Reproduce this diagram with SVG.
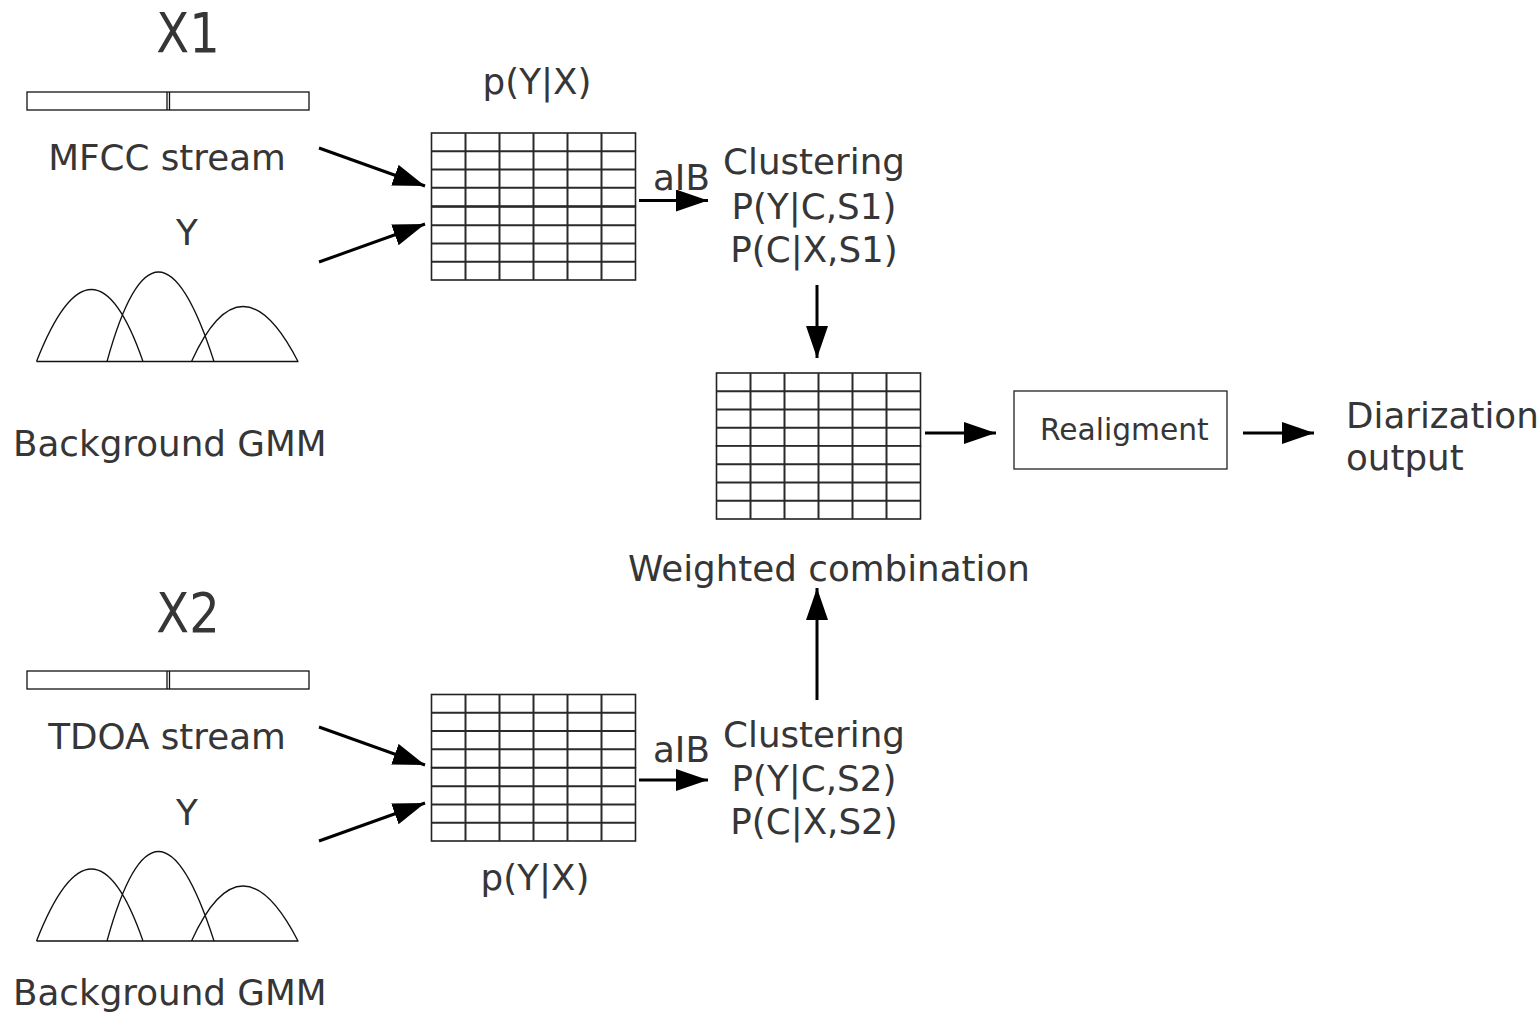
<svg xmlns="http://www.w3.org/2000/svg" xmlns:xlink="http://www.w3.org/1999/xlink" width="1538" height="1012" viewBox="0 0 1538 1012">
<style>
  text { font-family: "DejaVu Sans", "Liberation Sans", sans-serif; fill: #363636; }
  .t35 { font-size: 35.7px; }
  .big { font-size: 48px; }
  .mid { text-anchor: middle; }
  .thin { fill: none; stroke: #111; stroke-width: 1.3; }
  .grid { fill: #fff; stroke: #222; stroke-width: 1.6; }
  .gl { stroke: #2a2a2a; stroke-width: 2; }
  .arr { stroke: #000; stroke-width: 3; fill: none; marker-end: url(#ah); }
</style>
<defs>
  <marker id="ah" markerUnits="userSpaceOnUse" markerWidth="34" markerHeight="24" refX="32" refY="11" orient="auto">
    <path d="M0,0 L32,11 L0,22 z" fill="#000"/>
  </marker>
  <g id="block">
    <rect class="grid" x="0" y="0" width="204" height="73"/>
    <path class="gl" d="M34,0V73 M68,0V73 M102,0V73 M136,0V73 M170,0V73 M0,18.25H204 M0,36.5H204 M0,54.75H204"/>
  </g>
  <g id="bar">
    <rect class="thin" x="0" y="0" width="282" height="18" fill="#fff"/>
    <path class="thin" d="M140,0V18 M142.5,0V18"/>
  </g>
  <g id="gmm">
    <path class="thin" d="M0,0 H262 M0,0 Q56.5,-144 106.5,0 M70.5,0 Q120,-179 177.5,0 M155,0 Q205,-110 261.5,0"/>
  </g>
</defs>

<g id="stream1">
  <text class="big mid" transform="translate(188,52) scale(1,1.15)">X1</text>
  <use xlink:href="#bar" x="27" y="92"/>
  <text class="t35 mid" x="167" y="170">MFCC stream</text>
</g>
<g id="gmm1">
  <text class="t35 mid" x="187" y="245">Y</text>
  <use xlink:href="#gmm" x="36.5" y="361.5"/>
  <text class="t35" x="13" y="456">Background GMM</text>
</g>
<g id="matrix1">
  <text class="t35 mid" x="537" y="94">p(Y|X)</text>
  <use xlink:href="#block" x="431.5" y="133"/>
  <use xlink:href="#block" x="431.5" y="207"/>
</g>
<g id="clustering1">
  <text class="t35 mid" x="814" y="174">Clustering</text>
  <text class="t35 mid" x="814" y="219">P(Y|C,S1)</text>
  <text class="t35 mid" x="814" y="262">P(C|X,S1)</text>
</g>
<g id="combination">
  <use xlink:href="#block" x="716.5" y="373"/>
  <use xlink:href="#block" x="716.5" y="446"/>
  <text class="t35 mid" x="829" y="581">Weighted combination</text>
</g>
<g id="realignment">
  <rect x="1014" y="391" width="213" height="78" fill="#fff" stroke="#222" stroke-width="1.3"/>
  <text x="1040" y="440" style="font-size:29.7px">Realigment</text>
</g>
<g id="output">
  <text class="t35" x="1346" y="428">Diarization</text>
  <text class="t35" x="1346" y="470">output</text>
</g>
<g id="stream2">
  <text class="big mid" transform="translate(188,632) scale(1,1.15)">X2</text>
  <use xlink:href="#bar" x="27" y="671"/>
  <text class="t35 mid" x="167" y="749">TDOA stream</text>
</g>
<g id="gmm2">
  <text class="t35 mid" x="187" y="825">Y</text>
  <use xlink:href="#gmm" x="36.5" y="941"/>
  <text class="t35" x="13" y="1005">Background GMM</text>
</g>
<g id="matrix2">
  <use xlink:href="#block" x="431.5" y="694.5"/>
  <use xlink:href="#block" x="431.5" y="768"/>
  <text class="t35 mid" x="535" y="890">p(Y|X)</text>
</g>
<g id="clustering2">
  <text class="t35 mid" x="814" y="747">Clustering</text>
  <text class="t35 mid" x="814" y="791">P(Y|C,S2)</text>
  <text class="t35 mid" x="814" y="834">P(C|X,S2)</text>
</g>

<g id="connectors">
  <line class="arr" x1="319" y1="148" x2="425" y2="186"/>
  <line class="arr" x1="319" y1="262" x2="425" y2="224"/>
  <line class="arr" x1="639" y1="200.5" x2="708" y2="200.5"/>
  <text class="t35" x="653" y="190">aIB</text>
  <line class="arr" x1="817" y1="285" x2="817" y2="358"/>
  <line class="arr" x1="817" y1="700" x2="817" y2="588"/>
  <line class="arr" x1="925" y1="433" x2="996" y2="433"/>
  <line class="arr" x1="1243" y1="433" x2="1314" y2="433"/>
  <line class="arr" x1="319" y1="727" x2="425" y2="765"/>
  <line class="arr" x1="319" y1="841" x2="425" y2="803"/>
  <line class="arr" x1="639" y1="780" x2="708" y2="780"/>
  <text class="t35" x="653" y="762">aIB</text>
</g>
</svg>
